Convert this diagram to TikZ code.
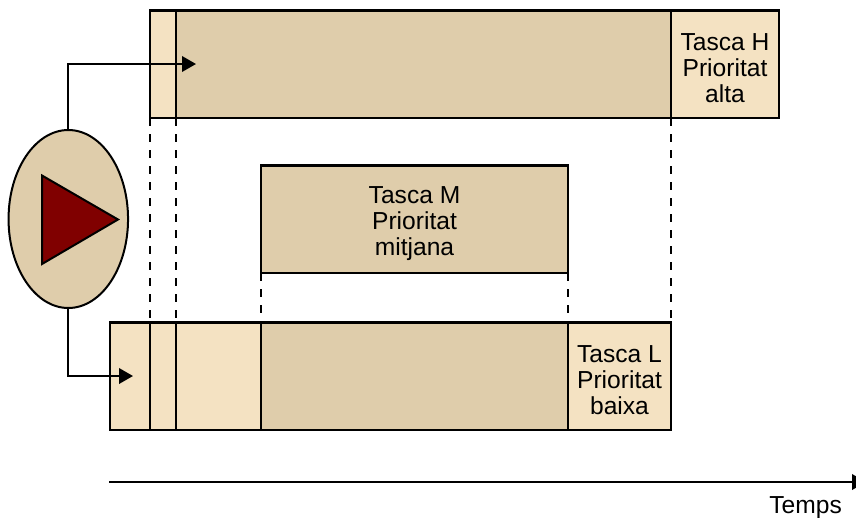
\documentclass[tikz,border=0pt]{standalone}
\usepackage{fontspec}
\setmainfont{Liberation Sans}
\usetikzlibrary{arrows.meta,shapes.geometric,calc}
\definecolor{lightbar}{HTML}{F4E2C2}
\definecolor{darkbar}{HTML}{DFCDAB}
\definecolor{playred}{HTML}{800000}
\newcommand{\firstline}{\rule{0pt}{25pt}}
\tikzset{
  bar/.style={draw=black,line width=2.1pt,minimum height=107.5pt,inner sep=0pt,outer sep=0pt,anchor=north west,
    align=center,font=\fontsize{24.6}{26}\selectfont},
  lightseg/.style={bar,fill=lightbar},
  darkseg/.style={bar,fill=darkbar},
  guide/.style={draw=black,line width=2.1pt,dash pattern=on 7.5pt off 8.5pt},
  flow/.style={draw=black,line width=2.1pt,-{Triangle[length=14pt,width=15.5pt]}},
}
\begin{document}
\begin{tikzpicture}[x=1pt,y=-1pt]
\useasboundingbox (0,0) rectangle (856,517);
% task H
\node[lightseg,minimum width=25.7pt] (hA) at (150,10.5) {};
\node[darkseg,minimum width=495.3pt] (hB) at (175.7,10.5) {};
\node[lightseg,minimum width=108pt] (hC) at (671,10.5) {\firstline Tasca H\\Prioritat\\alta};
% task M
\node[darkseg,minimum width=307pt] (mB) at (261,165.5) {\firstline Tasca M\\Prioritat\\mitjana};
% task L
\node[lightseg,minimum width=40pt] (lA) at (110,322.5) {};
\node[lightseg,minimum width=25.7pt] (lB) at (150,322.5) {};
\node[lightseg,minimum width=85.3pt] (lC) at (175.7,322.5) {};
\node[darkseg,minimum width=307pt] (lD) at (261,322.5) {};
\node[lightseg,minimum width=103pt] (lE) at (568,322.5) {\firstline Tasca L\\Prioritat\\baixa};
% guides
\draw[guide] (hA.south west) -- (lB.north west);
\draw[guide] (hB.south west) -- (lC.north west);
\draw[guide] (hC.south west) -- (lE.north east);
\draw[guide] (mB.south west) -- (lD.north west);
\draw[guide] (mB.south east) -- (lE.north west);
% scheduler
\node[ellipse,draw=black,line width=2pt,fill=darkbar,minimum width=119.5pt,minimum height=178pt,inner sep=0pt,outer sep=0pt] (sched) at (68.3,219) {};
\draw[line width=2pt,fill=playred,line join=miter] (42,175.5) -- (118,219.5) -- (42,264) -- cycle;
\coordinate (htip) at (196,64);
\coordinate (ltip) at (133,376);
\draw[flow] (sched.north) |- (htip);
\draw[flow] (sched.south) |- (ltip);
% time axis
\coordinate (tstart) at (109,482);
\coordinate (tend) at (866,482);
\draw[flow] (tstart) -- (tend);
\node[anchor=base east,inner sep=0pt,font=\fontsize{24.6}{26}\selectfont] (tlabel) at (842,513) {Temps};
\end{tikzpicture}
\end{document}
